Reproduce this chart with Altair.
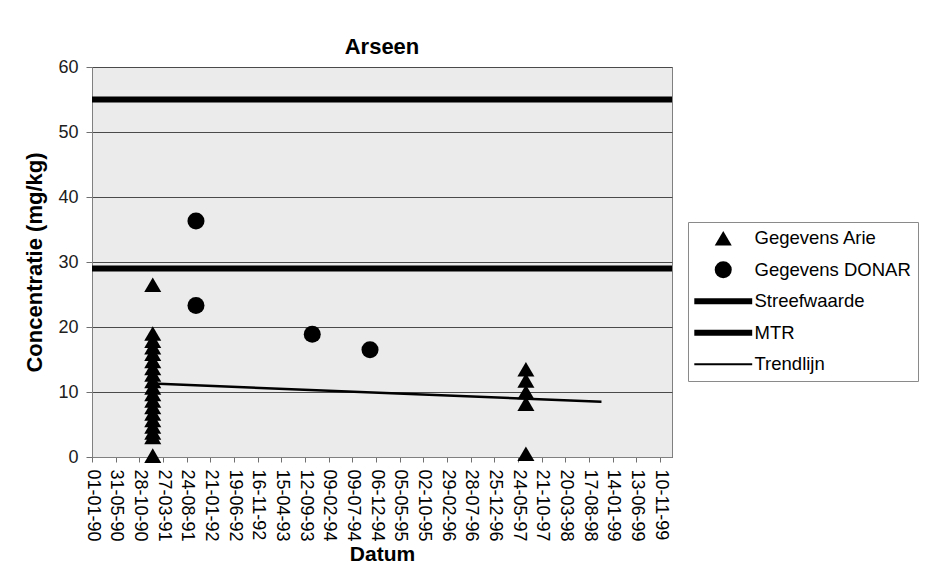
import altair as alt
import pandas as pd

FONT = "Liberation Sans"

# Series names, in legend order
series_names = ["Gegevens Arie", "Gegevens DONAR", "Streefwaarde", "MTR", "Trendlijn"]

# Legend/marker shapes: filled triangle and circle for the measurements,
# thin filled bars (custom SVG paths) standing in for the line series
series_shapes = [
    "triangle-up",
    "circle",
    "M-3.4,-0.35H3.4V0.35H-3.4Z",
    "M-3.4,-0.35H3.4V0.35H-3.4Z",
    "M-3.4,-0.12H3.4V0.12H-3.4Z",
]

# Gegevens Arie: sampling dates and arsenic concentrations (mg/kg)
arie_dates = [
    "1991-01-21", "1991-01-21", "1991-01-21", "1991-01-21", "1991-01-21",
    "1991-01-21", "1991-01-21", "1991-01-21", "1991-01-21", "1991-01-21",
    "1991-01-21", "1991-01-21", "1991-01-21", "1991-01-21", "1991-01-21",
    "1991-01-21", "1991-01-21", "1991-01-21", "1991-01-21",
    "1997-07-13", "1997-07-13", "1997-07-13", "1997-07-13", "1997-07-13",
]
arie_values = [
    26.5, 19.0, 17.9, 16.9, 15.9,
    14.8, 13.7, 12.7, 11.7, 10.7,
    9.7, 8.7, 7.7, 6.7, 5.7,
    4.7, 3.8, 3.1, 0.2,
    13.5, 11.8, 10.0, 8.2, 0.5,
]

# Gegevens DONAR
donar_dates = ["1991-10-22", "1991-10-22", "1993-10-28", "1994-10-29"]
donar_values = [36.3, 23.3, 18.9, 16.5]

# Norm values (mg/kg), drawn across the whole time axis
streefwaarde = 29
mtr = 55
axis_start = "1990-01-01"
axis_end = "2000-01-25"

# Trend line end points
trend_dates = ["1991-01-21", "1998-11-04"]
trend_values = [11.3, 8.5]

# Date axis ticks (every 150 days)
tick_dates = [
    "1990-01-01", "1990-05-31", "1990-10-28", "1991-03-27", "1991-08-24",
    "1992-01-21", "1992-06-19", "1992-11-16", "1993-04-15", "1993-09-12",
    "1994-02-09", "1994-07-09", "1994-12-06", "1995-05-05", "1995-10-02",
    "1996-02-29", "1996-07-28", "1996-12-25", "1997-05-24", "1997-10-21",
    "1998-03-20", "1998-08-17", "1999-01-14", "1999-06-13", "1999-11-10",
]
y_ticks = [0, 10, 20, 30, 40, 50, 60]


def to_dt(s):
    y, m, d = (int(p) for p in s.split("-"))
    return alt.DateTime(year=y, month=m, date=d, utc=True)


points = pd.DataFrame({
    "datum": arie_dates + donar_dates,
    "waarde": arie_values + donar_values,
    "reeks": ["Gegevens Arie"] * len(arie_values) + ["Gegevens DONAR"] * len(donar_values),
})

norms = pd.DataFrame({
    "datum": [axis_start, axis_end, axis_start, axis_end],
    "waarde": [streefwaarde, streefwaarde, mtr, mtr],
    "reeks": ["Streefwaarde"] * 2 + ["MTR"] * 2,
})

trend = pd.DataFrame({
    "datum": trend_dates,
    "waarde": trend_values,
    "reeks": ["Trendlijn"] * 2,
})

x_enc = alt.X(
    "datum:T",
    scale=alt.Scale(type="utc", domain=[to_dt(axis_start), to_dt(axis_end)], nice=False),
    axis=alt.Axis(
        values=[to_dt(t) for t in tick_dates],
        format="%d-%m-%y",
        labelAngle=90,
        labelAlign="left",
        labelBaseline="middle",
        labelFont=FONT,
        labelFontSize=18,
        labelColor="black",
        labelPadding=7,
        labelOverlap=False,
        labelFlush=False,
        labelBound=False,
        tickSize=5,
        tickColor="#707070",
        domainColor="#808080",
        grid=False,
        title="Datum",
        titleFont=FONT,
        titleFontSize=21,
        titleFontWeight="bold",
        titleColor="black",
        titlePadding=2,
    ),
)

y_enc = alt.Y(
    "waarde:Q",
    scale=alt.Scale(domain=[0, 60], nice=False, zero=True),
    axis=alt.Axis(
        values=y_ticks,
        labelFont=FONT,
        labelFontSize=18,
        labelColor="#202020",
        labelPadding=8,
        tickSize=6,
        tickColor="#707070",
        domainColor="#808080",
        grid=True,
        gridColor="#4a4a4a",
        gridWidth=1,
        title="Concentratie (mg/kg)",
        titleFont=FONT,
        titleFontSize=22,
        titleFontWeight="bold",
        titleColor="black",
        titlePadding=11,
    ),
)

norm_lines = alt.Chart(norms).mark_line(color="black", strokeWidth=6, clip=False).encode(
    x=x_enc, y=y_enc, detail="reeks:N"
)

trend_line = alt.Chart(trend).mark_line(color="black", strokeWidth=2.5).encode(
    x=x_enc, y=y_enc
)

markers = alt.Chart(points).mark_point(
    filled=True, color="black", opacity=1, size=290
).encode(
    x=x_enc,
    y=y_enc,
    shape=alt.Shape(
        "reeks:N",
        scale=alt.Scale(domain=series_names, range=series_shapes),
        legend=alt.Legend(
            title=None,
            orient="none",
            legendX=596,
            legendY=155,
            labelFont=FONT,
            labelFontSize=18.5,
            labelColor="black",
            labelOffset=22,
            symbolOffset=19,
            symbolSize=290,
            symbolFillColor="black",
            symbolStrokeWidth=0,
            padding=7,
            rowPadding=12.5,
            strokeColor="#8a8a8a",
            fillColor="white",
        ),
    ),
)

chart = (
    alt.layer(norm_lines, trend_line, markers)
    .properties(
        width=580,
        height=390,
        title=alt.Title("Arseen", font=FONT, fontSize=22, fontWeight="bold",
                        color="black", anchor="middle", offset=-1),
        autosize=alt.AutoSizeParams(type="none"),
        padding={"left": 92, "top": 67, "right": 257, "bottom": 127},
        background="white",
    )
    .configure_view(fill="#ebebeb", stroke="#808080", strokeWidth=1)
)

chart.save("out.html", embed_options={"renderer": "svg", "actions": False})
